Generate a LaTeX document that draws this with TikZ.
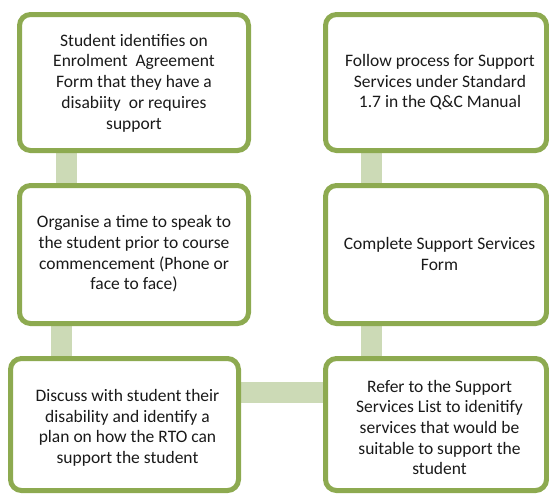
\documentclass[tikz,border=0pt]{standalone}
\usepackage{fontspec}
\setmainfont{Carlito}
\usetikzlibrary{backgrounds}
\definecolor{boxgreen}{HTML}{8DAA50}
\definecolor{bargreen}{HTML}{CCDAB6}
\definecolor{txtcol}{HTML}{1A1A1A}
\tikzset{
  x=1pt, y=1pt,
  box/.style={draw=boxgreen, line width=5pt, fill=white, rounded corners=11pt,
    rectangle, inner sep=0pt, outer sep=0pt},
  txt/.style={align=center, font=\fontsize{17.5}{20.7}\selectfont, text=txtcol, inner sep=0pt},
  conn/.style={draw=bargreen, line width=21pt}
}
\begin{document}
\begin{tikzpicture}
\useasboundingbox (0,0) rectangle (549,-493);
% boxes
\node[box, minimum width=229pt, minimum height=136pt] (b1) at (134,-82.5) {};
\node[box, minimum width=229pt, minimum height=138pt] (b2) at (134,-254.5) {};
\node[box, minimum width=228pt, minimum height=132pt] (b3) at (124.5,-424.5) {};
\node[box, minimum width=221pt, minimum height=136pt] (b4) at (436,-82.5) {};
\node[box, minimum width=221pt, minimum height=138pt] (b5) at (436,-254.5) {};
\node[box, minimum width=221pt, minimum height=132pt] (b6) at (436,-424.5) {};
% texts
\node[txt] (t1) at (134,-83) {Student identifies on\\Enrolment\ \ Agreement\\Form that they have a\\disabiity\ \ or requires\\support};
\node[txt] (t2) at (134,-254) {Organise a time to speak to\\the student prior to course\\commencement (Phone or\\face to face)};
\node[txt] (t3) at (127.5,-427.8) {Discuss with student their\\disability and identify a\\plan on how the RTO can\\support the student};
\node[txt] (t4) at (440,-82.3) {Follow process for Support\\Services under Standard\\1.7 in the Q\&C Manual};
\node[txt] (t5) at (439.5,-254.3) {Complete Support Services\\Form};
\node[txt] (t6) at (439.5,-427.5) {Refer to the Support\\Services List to idenitify\\services that would be\\suitable to support the\\student};
% connectors
\begin{scope}[on background layer]
\draw[conn] ([xshift=47pt]b1.south west) -- ([xshift=47pt]b1.south west |- b2.north);
\draw[conn] ([xshift=41.5pt]b2.south west) -- ([xshift=41.5pt]b2.south west |- b3.north);
\draw[conn] ([yshift=-34pt]b3.north east) -- ([yshift=-34pt]b3.north east -| b6.west);
\draw[conn] ([xshift=46pt]b4.south west) -- ([xshift=46pt]b4.south west |- b5.north);
\draw[conn] ([xshift=45.5pt]b5.south west) -- ([xshift=45.5pt]b5.south west |- b6.north);
\end{scope}
\end{tikzpicture}
\end{document}
